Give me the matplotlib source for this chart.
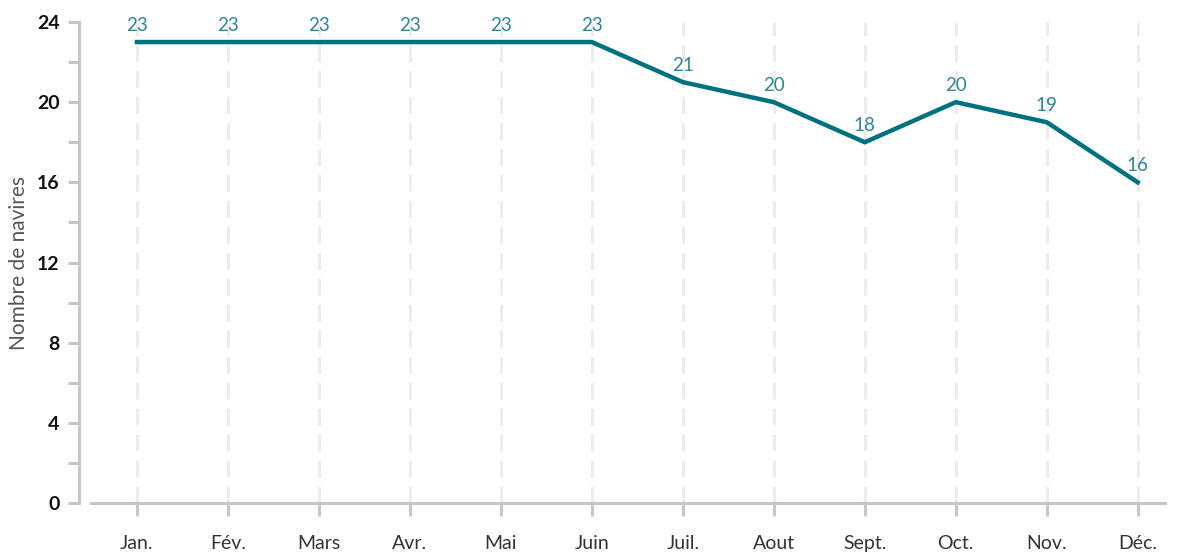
import matplotlib
matplotlib.use("Agg")
import matplotlib.pyplot as plt
from matplotlib.ticker import MultipleLocator

months = ["Jan.", "Fév.", "Mars", "Avr.", "Mai", "Juin", "Juil.", "Aout", "Sept.", "Oct.", "Nov.", "Déc."]
ships = [23, 23, 23, 23, 23, 23, 21, 20, 18, 20, 19, 16]
y_ticks = [0, 4, 8, 12, 16, 20, 24]

plt.rcParams['font.family'] = ['Lato', 'DejaVu Sans']

fig = plt.figure(figsize=(11.8, 5.53), dpi=100)
W, H = 1180, 553
ax = fig.add_axes([91 / W, 1 - 503 / H, (1165 - 91) / W, (503 - 22) / H])

x = list(range(len(months)))
line_color = "#00717f"
label_color = "#2f8593"
grid_color = "#ececec"
spine_color = "#c6c6c6"

for xi in x:
    ax.axvline(xi, color=grid_color, lw=2.2, linestyle=(0, (5.5, 3)), zorder=0)

ax.plot(x, ships, color=line_color, lw=3.2, solid_joinstyle='miter', zorder=3, clip_on=False)
for xi, v in zip(x, ships):
    ax.annotate(str(v), (xi, v), xytext=(0, 6), textcoords='offset points',
                ha='center', va='bottom', color=label_color, fontsize=13.5,
                zorder=4)

ax.set_xlim(-0.505, 11.3)
ax.set_ylim(0, 24)

ax.spines['top'].set_visible(False)
ax.spines['right'].set_visible(False)
ax.spines['left'].set_position(('outward', 8.6))
for s in ('left', 'bottom'):
    ax.spines[s].set_color(spine_color)
    ax.spines[s].set_linewidth(2.2)

ax.set_xticks(x)
ax.set_xticklabels(months, fontsize=14, color="#333333")
ax.set_yticks(y_ticks)
ax.set_yticklabels([str(t) for t in y_ticks], fontsize=14, fontweight='bold', color="#111111")
ax.yaxis.set_minor_locator(MultipleLocator(2))
ax.tick_params(axis='x', length=9, width=2.2, color=spine_color, pad=14)
ax.tick_params(axis='y', which='both', length=8, width=2.2, color=spine_color, pad=6)

ax.set_ylabel("Nombre de navires", fontsize=15, color="#555555", labelpad=6)

fig.savefig("out.png", dpi=100, facecolor='white')
